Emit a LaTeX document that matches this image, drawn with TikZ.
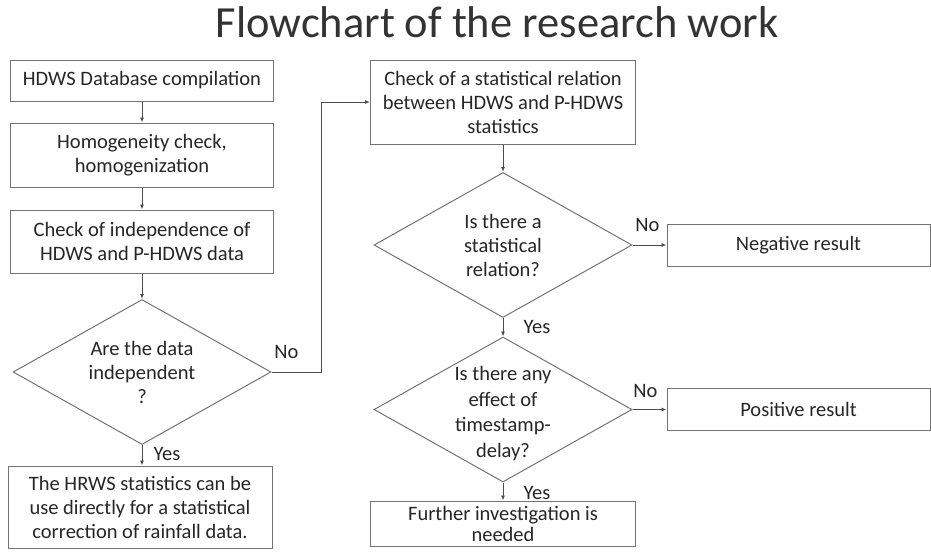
\documentclass[tikz,border=0pt]{standalone}
\usepackage{fontspec}
\setmainfont{Carlito}
\usetikzlibrary{shapes.geometric,arrows.meta}
\begin{document}
\begin{tikzpicture}[x=1pt,y=-1pt,
    every node/.style={text=black!85, font=\fontsize{20.5}{24}\selectfont, align=center},
    box/.style={draw=black!55, line width=1pt, inner sep=0pt},
    decision/.style={draw=black!55, line width=1pt, diamond, inner sep=0pt,
      minimum width=258pt, minimum height=145pt},
    arr/.style={draw=black!70, line width=0.9pt, -{Latex[length=5pt,width=4pt]}}]
  \useasboundingbox (0,0) rectangle (931,555);
  \node[font=\fontsize{44.5}{52}\selectfont, text=black!80, anchor=base] (title) at (497,37) {Flowchart of the research work};
  \node[box, minimum width=263pt, minimum height=41pt] (db) at (142,80.5) {HDWS Database compilation};
  \node[box, minimum width=263pt, minimum height=64pt] (hom) at (142,155) {Homogeneity check,\\homogenization};
  \node[box, minimum width=263pt, minimum height=63pt] (ind) at (142,241.5) {Check of independence of\\HDWS and P-HDWS data};
  \node[decision] (dec1) at (142,372) {};
  \node (dec1txt) at (dec1) {Are the data\\independent\\?};
  \node[box, minimum width=264pt, minimum height=82pt] (hrws) at (140,507) {The HRWS statistics can be\\use directly for a statistical\\correction of rainfall data.};
  \node[box, minimum width=265pt, minimum height=84pt] (rel) at (503,102) {Check of a statistical relation\\between HDWS and P-HDWS\\statistics};
  \node[decision] (dec2) at (503,245) {};
  \node (dec2txt) at (dec2) {Is there a\\statistical\\relation?};
  \node[decision] (dec3) at (503,409.5) {};
  \node[font=\fontsize{20.5}{25.5}\selectfont] (dec3txt) at ([yshift=-4pt]dec3) {Is there any\\effect of\\timestamp-\\delay?};
  \node[box, minimum width=265pt, minimum height=45pt, font=\fontsize{20.5}{21}\selectfont] (fur) at (503,523.5) {Further investigation is\\needed};
  \node[box, minimum width=263pt, minimum height=42pt] (neg) at (798.5,245) {Negative result};
  \node[box, minimum width=263pt, minimum height=42pt] (pos) at (798.5,409.5) {Positive result};
  \node (no1) at ([shift={(15,-20)}]dec1.east) {No};
  \node (yes1) at ([shift={(25,9)}]dec1.south) {Yes};
  \node (no2) at ([shift={(15,-20)}]dec2.east) {No};
  \node (yes2) at ([shift={(34,9)}]dec2.south) {Yes};
  \node (no3) at ([shift={(13,-19)}]dec3.east) {No};
  \node (yes3) at ([shift={(34,10)}]dec3.south) {Yes};
  \begin{scope}[arr]
    \draw (db) -- (hom);
    \draw (hom) -- (ind);
    \draw (ind) -- (dec1);
    \draw (dec1.south) -- (dec1.south |- hrws.north);
    \draw (dec1.east) -- ++(50,0) |- (rel.west);
    \draw (rel) -- (dec2);
    \draw (dec2) -- (dec3);
    \draw (dec3) -- (fur);
    \draw (dec2.east) -- (neg.west);
    \draw (dec3.east) -- (pos.west);
  \end{scope}
\end{tikzpicture}
\end{document}
